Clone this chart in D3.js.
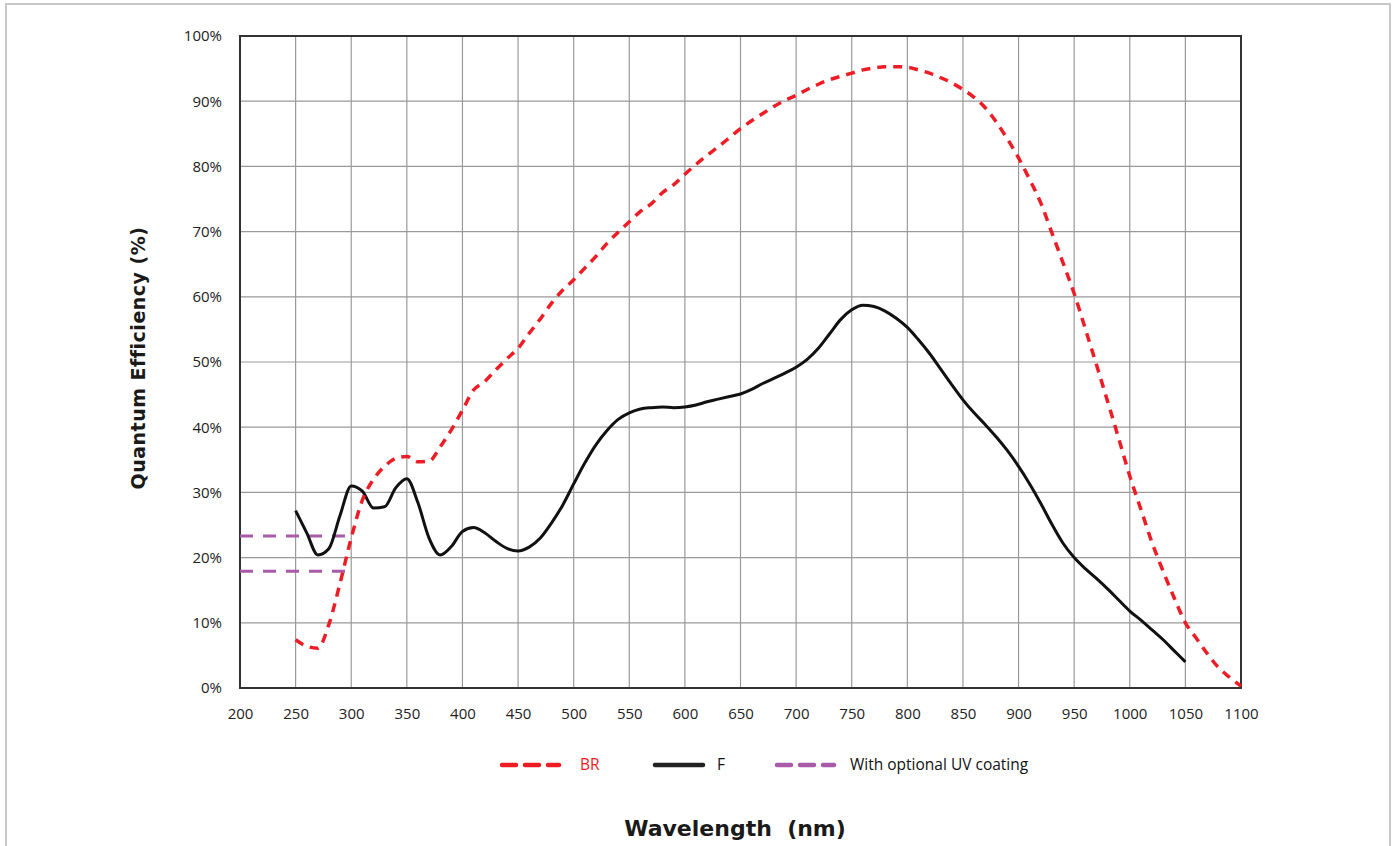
<!DOCTYPE html>
<html>
<head>
<meta charset="utf-8">
<script src="https://cdn.jsdelivr.net/npm/d3@7"></script>
<style>
  body { margin: 0; background: #fff; }
  .tick text { font-family: "Open Sans", sans-serif; font-size: 15px; fill: #222; }
</style>
</head>
<body>
<div class="chart"></div>
<script>
// wavelengths (nm) and quantum efficiency (%)
var wavelengthF = [250, 260, 270, 280, 290, 300, 310, 320, 330, 340, 350, 360, 370, 380, 390,
    400, 410, 420, 430, 440, 450, 460, 470, 480, 490, 500, 510, 520, 530, 540, 550, 560, 570,
    580, 590, 600, 610, 620, 630, 640, 650, 660, 670, 680, 690, 700, 710, 720, 730, 740, 750,
    760, 770, 780, 790, 800, 810, 820, 830, 840, 850, 860, 870, 880, 890, 900, 910, 920, 930,
    940, 950, 960, 970, 980, 990, 1000, 1010, 1020, 1030, 1040, 1050];
var qeF = [27.2, 23.8, 20.4, 21.4, 26.5, 31.0, 30.2, 27.6, 27.8, 30.7, 32.1, 28.4, 23.0, 20.4, 21.7,
    24.0, 24.6, 23.8, 22.5, 21.4, 21.0, 21.6, 23.0, 25.3, 28.0, 31.3, 34.5, 37.3, 39.5, 41.2,
    42.2, 42.8, 43.0, 43.1, 43.0, 43.1, 43.4, 43.9, 44.3, 44.7, 45.1, 45.8, 46.7, 47.5, 48.3,
    49.2, 50.4, 52.1, 54.3, 56.5, 58.0, 58.7, 58.5, 57.8, 56.7, 55.3, 53.4, 51.3, 48.9, 46.5,
    44.2, 42.2, 40.4, 38.5, 36.4, 34.0, 31.3, 28.3, 25.1, 22.2, 20.0, 18.3, 16.8, 15.2, 13.5,
    11.8, 10.4, 8.9, 7.4, 5.7, 4.0];

var wavelengthBR = [250, 260, 270, 280, 290, 300, 310, 320, 330, 340, 350, 360, 370, 380, 390,
    400, 410, 420, 430, 440, 450, 460, 470, 480, 490, 500, 510, 520, 530, 540, 550, 560, 570,
    580, 590, 600, 610, 620, 630, 640, 650, 660, 670, 680, 690, 700, 710, 720, 730, 740, 750,
    760, 770, 780, 790, 800, 810, 820, 830, 840, 850, 860, 870, 880, 890, 900, 910, 920, 930,
    940, 950, 960, 970, 980, 990, 1000, 1010, 1020, 1030, 1040, 1050, 1060, 1070, 1080, 1090, 1100];
var qeBR = [7.4, 6.4, 6.1, 9.8, 16.1, 23.0, 28.8, 32.0, 34.0, 35.2, 35.5, 34.7, 34.8, 37.0, 39.6,
    42.6, 45.7, 47.0, 48.8, 50.5, 52.1, 54.4, 56.6, 59.0, 61.0, 62.6, 64.4, 66.2, 68.2, 69.9,
    71.5, 73.1, 74.3, 76.0, 77.2, 78.8, 80.3, 81.7, 83.0, 84.4, 85.8, 87.0, 88.1, 89.2, 90.1,
    90.9, 91.8, 92.6, 93.3, 93.8, 94.3, 94.8, 95.1, 95.3, 95.3, 95.2, 94.8, 94.3, 93.6, 92.8,
    91.8, 90.6, 89.0, 86.8, 84.2, 81.3, 78.0, 74.4, 69.8, 65.2, 60.5, 55.1, 49.6, 44.0, 38.3,
    32.5, 27.4, 22.3, 17.9, 13.8, 10.0, 7.6, 5.2, 3.1, 1.6, 0.3];

// UV coating levels, drawn from 200 to 296 nm
var uvLevels = [23.3, 17.9];
var uvRange = [200, 296];

var xTicks = [200, 250, 300, 350, 400, 450, 500, 550, 600, 650, 700, 750, 800, 850, 900, 950, 1000, 1050, 1100];
var yTicks = [0, 10, 20, 30, 40, 50, 60, 70, 80, 90, 100];

var svgWidth = 1397;
var svgHeight = 846;

var margin = { top: 36, right: 156, bottom: 158, left: 240 };
var width = svgWidth - margin.left - margin.right;
var height = svgHeight - margin.top - margin.bottom;

var svg = d3.select(".chart")
    .append("svg")
    .attr("width", svgWidth)
    .attr("height", svgHeight);

// light outer frame
svg.append("rect")
    .attr("x", 6)
    .attr("y", 4)
    .attr("width", 1384)
    .attr("height", 860)
    .attr("fill", "none")
    .attr("stroke", "#c8c8c8")
    .attr("stroke-width", 2);

var chartGroup = svg.append("g")
    .attr("transform", `translate(${margin.left}, ${margin.top})`);

var xScale = d3.scaleLinear().domain([200, 1100]).range([0, width]);
var yScale = d3.scaleLinear().domain([0, 100]).range([height, 0]);

// grid lines
chartGroup.append("g")
    .selectAll("line.vgrid")
    .data(xTicks)
    .enter()
    .append("line")
    .attr("x1", d => xScale(d))
    .attr("x2", d => xScale(d))
    .attr("y1", 0)
    .attr("y2", height)
    .attr("stroke", "#9a9a9a")
    .attr("stroke-width", 1.2);

chartGroup.append("g")
    .selectAll("line.hgrid")
    .data(yTicks)
    .enter()
    .append("line")
    .attr("x1", 0)
    .attr("x2", width)
    .attr("y1", d => yScale(d))
    .attr("y2", d => yScale(d))
    .attr("stroke", "#9a9a9a")
    .attr("stroke-width", 1.2);

// axes (labels only, frame drawn separately)
var bottomAxis = d3.axisBottom(xScale).tickValues(xTicks).tickSize(0).tickPadding(20)
    .tickFormat(d3.format("d"));
var leftAxis = d3.axisLeft(yScale).tickValues(yTicks).tickSize(0).tickPadding(18)
    .tickFormat(d => d + "%");

chartGroup.append("g")
    .attr("transform", `translate(0, ${height})`)
    .call(bottomAxis)
    .call(g => g.select(".domain").remove());

chartGroup.append("g")
    .call(leftAxis)
    .call(g => g.select(".domain").remove());

// plot frame
chartGroup.append("rect")
    .attr("x", 0)
    .attr("y", 0)
    .attr("width", width)
    .attr("height", height)
    .attr("fill", "none")
    .attr("stroke", "#333")
    .attr("stroke-width", 2);

var line = d3.line()
    .x(d => xScale(d[0]))
    .y(d => yScale(d[1]))
    .curve(d3.curveMonotoneX);

// UV coating dashed levels
chartGroup.append("g")
    .selectAll("line.uv")
    .data(uvLevels)
    .enter()
    .append("line")
    .attr("x1", xScale(uvRange[0]))
    .attr("x2", xScale(uvRange[1]))
    .attr("y1", d => yScale(d))
    .attr("y2", d => yScale(d))
    .attr("stroke", "#a95aa8")
    .attr("stroke-width", 3)
    .attr("stroke-dasharray", "13,10");

// F (solid black)
chartGroup.append("path")
    .datum(d3.zip(wavelengthF, qeF))
    .attr("d", line)
    .attr("fill", "none")
    .attr("stroke", "#111")
    .attr("stroke-width", 3)
    .attr("stroke-linejoin", "round");

// BR (red dashed)
chartGroup.append("path")
    .datum(d3.zip(wavelengthBR, qeBR))
    .attr("d", line)
    .attr("fill", "none")
    .attr("stroke", "#ee1c25")
    .attr("stroke-width", 3.5)
    .attr("stroke-dasharray", "9,7");

// legend
var legendItems = [
    { label: "BR", color: "#ee1c25", text: "#ee1c25", dash: "14,9", x1: 502, x2: 559, tx: 580 },
    { label: "F", color: "#222", text: "#111", dash: null, x1: 655, x2: 703, tx: 717 },
    { label: "With optional UV coating", color: "#a95aa8", text: "#111", dash: "14,9", x1: 777, x2: 834, tx: 850 }
];

var legend = svg.append("g");
legend.selectAll("line")
    .data(legendItems)
    .enter()
    .append("line")
    .attr("x1", d => d.x1)
    .attr("x2", d => d.x2)
    .attr("y1", 765)
    .attr("y2", 765)
    .attr("stroke", d => d.color)
    .attr("stroke-width", 4.5)
    .attr("stroke-linecap", "round")
    .attr("stroke-dasharray", d => d.dash);

legend.selectAll("text")
    .data(legendItems)
    .enter()
    .append("text")
    .attr("x", d => d.tx)
    .attr("y", 770)
    .attr("fill", d => d.text)
    .style("font-family", "'Open Sans', sans-serif")
    .style("font-size", "15.5px")
    .text(d => d.label);

// axis titles
svg.append("text")
    .attr("transform", "translate(145, 358) rotate(-90)")
    .attr("text-anchor", "middle")
    .style("font-family", "'DejaVu Sans', sans-serif")
    .style("font-weight", "bold")
    .style("font-size", "19px")
    .style("letter-spacing", "0.5px")
    .attr("fill", "#1a1a1a")
    .text("Quantum Efficiency (%)");

svg.append("text")
    .attr("x", 735)
    .attr("y", 836)
    .attr("text-anchor", "middle")
    .style("font-family", "'DejaVu Sans', sans-serif")
    .style("font-weight", "bold")
    .style("font-size", "22px")
    .style("white-space", "pre")
    .attr("fill", "#1a1a1a")
    .text("Wavelength  (nm)");
</script>
</body>
</html>
